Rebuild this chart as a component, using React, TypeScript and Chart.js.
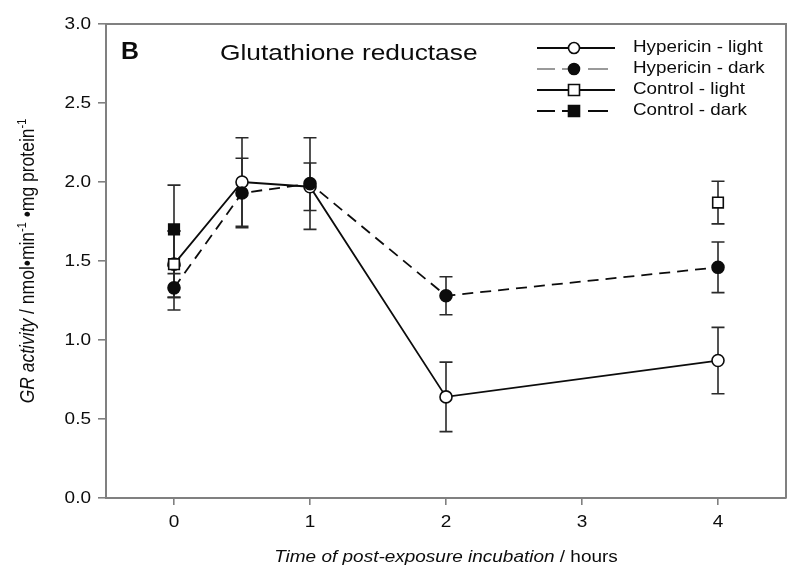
import React, { useEffect, useRef } from "react";
import { Chart, registerables } from "chart.js";

Chart.register(...registerables);

// ---- data ----
const timeHours = [0, 0.5, 1, 2, 4];
const hypericinLight = [1.48, 2.0, 1.97, 0.64, 0.87];
const hypericinLightErr = [0.21, 0.28, 0.15, 0.22, 0.21];
const hypericinDark = [1.33, 1.93, 1.99, 1.28, 1.46];
const hypericinDarkErr = [0.14, 0.22, 0.29, 0.12, 0.16];
const controlLightTime = [0, 4];
const controlLight = [1.48, 1.87];
const controlLightErr = [0.21, 0.135];
const controlDarkTime = [0];
const controlDark = [1.7];
const controlDarkErr = [0.28];
const xTickValues = [0, 1, 2, 3, 4];
const yTickValues = [0, 0.5, 1, 1.5, 2, 2.5, 3];
const seriesLabels = ["Hypericin - light", "Hypericin - dark", "Control - light", "Control - dark"];
const panelLetter = "B";
const chartTitle = "Glutathione reductase";
const xTitleItalic = "Time of post-exposure incubation";
const xTitleRest = " / hours";

const FONT = "'Liberation Sans', Arial, sans-serif";
const INK = "#0c0c0c";
const FRAME = "#808080";

function pts(xs: number[], ys: number[]) {
  return xs.map((x, i) => ({ x, y: ys[i] }));
}

function stretchedText(
  ctx: CanvasRenderingContext2D,
  text: string,
  x: number,
  y: number,
  font: string,
  align: CanvasTextAlign,
  baseline: CanvasTextBaseline,
  sx: number
) {
  ctx.save();
  ctx.translate(x, y);
  ctx.scale(sx, 1);
  ctx.font = font;
  ctx.textAlign = align;
  ctx.textBaseline = baseline;
  ctx.fillStyle = INK;
  ctx.fillText(text, 0, 0);
  ctx.restore();
}

const errorBarPlugin = {
  id: "errorBars",
  beforeDatasetsDraw(chart: any) {
    const ctx = chart.ctx;
    const xs = chart.scales.x;
    const ys = chart.scales.y;
    ctx.save();
    ctx.strokeStyle = "#2a2a2a";
    ctx.lineWidth = 1.6;
    chart.data.datasets.forEach((ds: any) => {
      const errs: number[] = ds.errors || [];
      ds.data.forEach((p: any, i: number) => {
        const e = errs[i];
        if (e == null) return;
        const px = xs.getPixelForValue(p.x);
        const top = ys.getPixelForValue(p.y + e);
        const bot = ys.getPixelForValue(p.y - e);
        const cap = 6.5;
        ctx.beginPath();
        ctx.moveTo(px, top);
        ctx.lineTo(px, bot);
        ctx.moveTo(px - cap, top);
        ctx.lineTo(px + cap, top);
        ctx.moveTo(px - cap, bot);
        ctx.lineTo(px + cap, bot);
        ctx.stroke();
      });
    });
    ctx.restore();
  },
};

const decorPlugin = {
  id: "decor",
  afterDraw(chart: any) {
    const ctx: CanvasRenderingContext2D = chart.ctx;
    const area = chart.chartArea;
    const xs = chart.scales.x;
    const ys = chart.scales.y;

    // top & right frame
    ctx.save();
    ctx.strokeStyle = FRAME;
    ctx.lineWidth = 2;
    ctx.beginPath();
    ctx.moveTo(area.left, area.top);
    ctx.lineTo(area.right, area.top);
    ctx.lineTo(area.right, area.bottom);
    ctx.stroke();
    ctx.restore();

    // tick labels
    const tickFont = `16.5px ${FONT}`;
    ys.ticks.forEach((t: any) => {
      stretchedText(ctx, t.value.toFixed(1), area.left - 15, ys.getPixelForValue(t.value), tickFont, "right", "middle", 1.15);
    });
    xs.ticks.forEach((t: any) => {
      stretchedText(ctx, String(t.value), xs.getPixelForValue(t.value), area.bottom + 24, tickFont, "center", "middle", 1.15);
    });

    // panel letter and title
    stretchedText(ctx, panelLetter, area.left + 15, area.top + 35, `bold 23px ${FONT}`, "left", "alphabetic", 1.08);
    stretchedText(ctx, chartTitle, area.left + 114, area.top + 36, `22.5px ${FONT}`, "left", "alphabetic", 1.17);

    // x axis title
    {
      const sx = 1.15;
      const fI = `italic 16.5px ${FONT}`;
      const fN = `16.5px ${FONT}`;
      ctx.save();
      ctx.font = fI;
      const w1 = ctx.measureText(xTitleItalic).width;
      ctx.font = fN;
      const w2 = ctx.measureText(xTitleRest).width;
      const total = (w1 + w2) * sx;
      const cx = (area.left + area.right) / 2;
      const start = cx - total / 2;
      ctx.restore();
      stretchedText(ctx, xTitleItalic, start, 562, fI, "left", "alphabetic", sx);
      stretchedText(ctx, xTitleRest, start + w1 * sx, 562, fN, "left", "alphabetic", sx);
    }

    // y axis title (rotated, mixed styles)
    {
      const segs = [
        { t: "GR activity", f: `italic 17.5px ${FONT}`, sup: false },
        { t: " / nmol\u2022min", f: `17.5px ${FONT}`, sup: false },
        { t: "-1", f: `11px ${FONT}`, sup: true },
        { t: " \u2022mg protein", f: `17.5px ${FONT}`, sup: false },
        { t: "-1", f: `11px ${FONT}`, sup: true },
      ];
      ctx.save();
      const widths = segs.map((s) => {
        ctx.font = s.f;
        return ctx.measureText(s.t).width;
      });
      const total = widths.reduce((a, b) => a + b, 0);
      ctx.translate(27, (area.top + area.bottom) / 2);
      ctx.scale(1.15, 1);
      ctx.rotate(-Math.PI / 2);
      ctx.fillStyle = INK;
      ctx.textAlign = "left";
      ctx.textBaseline = "alphabetic";
      let x = -total / 2;
      segs.forEach((s, i) => {
        ctx.font = s.f;
        ctx.fillText(s.t, x, s.sup ? -1 : 6);
        x += widths[i];
      });
      ctx.restore();
    }

    // legend
    {
      const rows = [48, 69, 90, 111];
      const x0 = 537;
      const x1 = 615;
      const mx = 574;
      const legendStyles = [
        { dashed: false, color: INK, marker: "circle", fill: "#fff" },
        { dashed: true, color: "#9a9a9a", marker: "circle", fill: INK },
        { dashed: false, color: INK, marker: "rect", fill: "#fff" },
        { dashed: true, color: INK, marker: "rect", fill: INK },
      ];
      legendStyles.forEach((st, i) => {
        const y = rows[i];
        ctx.save();
        ctx.strokeStyle = st.color;
        ctx.lineWidth = 2;
        ctx.beginPath();
        if (st.dashed) {
          ctx.moveTo(x0, y);
          ctx.lineTo(x0 + 18, y);
          ctx.moveTo(x0 + 25, y);
          ctx.lineTo(mx, y);
          ctx.moveTo(mx + 14, y);
          ctx.lineTo(x1 - 7, y);
        } else {
          ctx.moveTo(x0, y);
          ctx.lineTo(x1, y);
        }
        ctx.stroke();
        ctx.strokeStyle = INK;
        ctx.lineWidth = 1.6;
        ctx.fillStyle = st.fill;
        ctx.beginPath();
        if (st.marker === "circle") {
          ctx.arc(mx, y, 5.5, 0, Math.PI * 2);
        } else {
          ctx.rect(mx - 5.5, y - 5.5, 11, 11);
        }
        ctx.fill();
        ctx.stroke();
        ctx.restore();
        stretchedText(ctx, seriesLabels[i], 633, y - 1, `16.5px ${FONT}`, "left", "middle", 1.14);
      });
    }
  },
};

export default function App() {
  const canvasRef = useRef<HTMLCanvasElement | null>(null);

  useEffect(() => {
    document.body.style.margin = "0";
    const canvas = canvasRef.current;
    if (!canvas) return;

    const chart = new Chart(canvas, {
      type: "scatter",
      data: {
        datasets: [
          {
            label: seriesLabels[0],
            data: pts(timeHours, hypericinLight),
            errors: hypericinLightErr,
            showLine: true,
            borderColor: INK,
            borderWidth: 1.8,
            pointStyle: "circle",
            pointRadius: 6,
            pointBackgroundColor: "#fff",
            pointBorderColor: INK,
            pointBorderWidth: 1.6,
            order: 3,
          } as any,
          {
            label: seriesLabels[1],
            data: pts(timeHours, hypericinDark),
            errors: hypericinDarkErr,
            showLine: true,
            borderColor: INK,
            borderWidth: 1.8,
            borderDash: [11, 7],
            pointStyle: "circle",
            pointRadius: 6,
            pointBackgroundColor: INK,
            pointBorderColor: INK,
            pointBorderWidth: 1.6,
            order: 2,
          } as any,
          {
            label: seriesLabels[2],
            data: pts(controlLightTime, controlLight),
            errors: controlLightErr,
            showLine: false,
            borderColor: INK,
            pointStyle: "rect",
            pointRadius: 7.5,
            pointBackgroundColor: "#fff",
            pointBorderColor: INK,
            pointBorderWidth: 1.6,
            order: 1,
          } as any,
          {
            label: seriesLabels[3],
            data: pts(controlDarkTime, controlDark),
            errors: controlDarkErr,
            showLine: false,
            borderColor: INK,
            pointStyle: "rect",
            pointRadius: 7.5,
            pointBackgroundColor: INK,
            pointBorderColor: INK,
            pointBorderWidth: 1.6,
            order: 0,
          } as any,
        ],
      },
      options: {
        responsive: false,
        animation: false,
        devicePixelRatio: 1,
        layout: { padding: { top: 24, right: 14, left: 0, bottom: 0 } },
        plugins: {
          legend: { display: false },
          tooltip: { enabled: false },
          title: { display: false },
        },
        scales: {
          x: {
            type: "linear",
            min: -0.5,
            max: 4.5,
            afterBuildTicks: (s: any) => {
              s.ticks = xTickValues.map((v) => ({ value: v }));
            },
            afterFit: (s: any) => {
              s.height = 78;
            },
            ticks: { display: false },
            grid: { drawOnChartArea: false, drawTicks: true, tickLength: 7, color: FRAME, lineWidth: 1.6 },
            border: { display: true, color: FRAME, width: 2 },
          },
          y: {
            type: "linear",
            min: 0,
            max: 3,
            afterBuildTicks: (s: any) => {
              s.ticks = yTickValues.map((v) => ({ value: v }));
            },
            afterFit: (s: any) => {
              s.width = 106;
            },
            ticks: { display: false },
            grid: { drawOnChartArea: false, drawTicks: true, tickLength: 8, color: FRAME, lineWidth: 1.6 },
            border: { display: true, color: FRAME, width: 2 },
          },
        },
      } as any,
      plugins: [errorBarPlugin, decorPlugin],
    });

    return () => chart.destroy();
  }, []);

  return (
    <div style={{ width: 800, height: 576, background: "#fff" }}>
      <canvas ref={canvasRef} width={800} height={576} style={{ display: "block" }} />
    </div>
  );
}
